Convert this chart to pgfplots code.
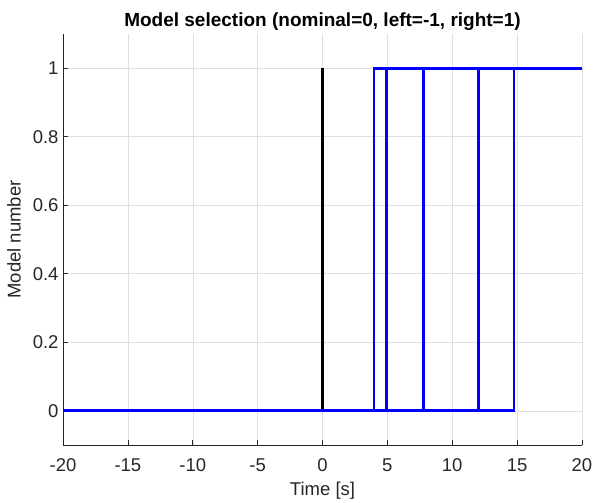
\documentclass[border=0pt]{standalone}
\usepackage{fontspec}
\setmainfont{Liberation Sans}
\usepackage{pgfplots}
\pgfplotsset{compat=1.18}
\definecolor{axc}{gray}{0.15}
\definecolor{gridc}{gray}{0.88}
\begin{document}
\begin{tikzpicture}
\path[use as bounding box] (0,0) rectangle (593bp,503bp);
\begin{axis}[
  at={(63bp,58bp)}, anchor=south west,
  scale only axis, width=519bp, height=411bp,
  xmin=-20, xmax=20, ymin=-0.1, ymax=1.1,
  axis lines*=left,
  axis line style={axc, line width=0.6pt},
  xtick={-20,-15,...,20},
  ytick={0,0.2,0.4,0.6,0.8,1},
  yticklabels={0,0.2,0.4,0.6,0.8,1},
  tick align=inside,
  major tick length=5bp,
  tick style={axc, line width=0.6pt},
  grid=major,
  major grid style={gridc, line width=0.5pt},
  ticklabel style={font=\fontsize{18.5bp}{20bp}\selectfont, text=axc},
  /pgf/number format/assume math mode=true,
  xticklabel style={yshift=-10bp},
  yticklabel style={xshift=-1bp},
  xlabel={Time [s]},
  ylabel={Model number},
  label style={font=\fontsize{18.5bp}{20bp}\selectfont, text=axc},
  xlabel style={yshift=-4bp},
  ylabel style={yshift=5bp},
  title={\textbf{Model selection (nominal=0, left=-1, right=1)}},
  title style={font=\fontsize{19bp}{21bp}\selectfont, yshift=-6bp},
]
\addplot[black, line width=2.6bp] coordinates {(-20,0) (0,0) (0,1) (0,0)};
\addplot[blue, line width=2.6bp] coordinates {(-20,0) (14.75,0) (14.75,1) (20,1)};
\addplot[blue, line width=2.6bp] coordinates {(-20,0) (12.0,0) (12.0,1) (20,1)};
\addplot[blue, line width=2.6bp] coordinates {(-20,0) (7.8,0) (7.8,1) (20,1)};
\addplot[blue, line width=2.6bp] coordinates {(-20,0) (4.95,0) (4.95,1) (20,1)};
\addplot[blue, line width=2.6bp] coordinates {(-20,0) (3.97,0) (3.97,1) (20,1)};
\end{axis}
\end{tikzpicture}
\end{document}
